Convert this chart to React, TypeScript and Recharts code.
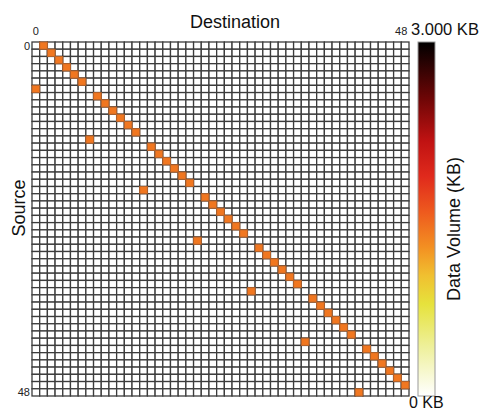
import { Scatter, ScatterChart, XAxis, YAxis } from 'recharts'

// Ranks 0..48 on both axes
const ranks = [
  0, 1, 2, 3, 4, 5, 6, 7, 8, 9, 10, 11, 12, 13, 14, 15, 16, 17, 18, 19, 20, 21, 22, 23, 24,
  25, 26, 27, 28, 29, 30, 31, 32, 33, 34, 35, 36, 37, 38, 39, 40, 41, 42, 43, 44, 45, 46, 47, 48,
]
const axisTicks = [0, 48]

// Point-to-point messages: source rank -> destination rank (ring inside each group of 7)
const sources = [
  0, 1, 2, 3, 4, 5, 6,
  7, 8, 9, 10, 11, 12, 13,
  14, 15, 16, 17, 18, 19, 20,
  21, 22, 23, 24, 25, 26, 27,
  28, 29, 30, 31, 32, 33, 34,
  35, 36, 37, 38, 39, 40, 41,
  42, 43, 44, 45, 46, 47, 48,
]
const destinations = [
  1, 2, 3, 4, 5, 6, 0,
  8, 9, 10, 11, 12, 13, 7,
  15, 16, 17, 18, 19, 20, 14,
  22, 23, 24, 25, 26, 27, 21,
  29, 30, 31, 32, 33, 34, 28,
  36, 37, 38, 39, 40, 41, 35,
  43, 44, 45, 46, 47, 48, 42,
]
const volumesKB = [
  1400, 1400, 1400, 1400, 1400, 1400, 1400,
  1400, 1400, 1400, 1400, 1400, 1400, 1400,
  1400, 1400, 1400, 1400, 1400, 1400, 1400,
  1400, 1400, 1400, 1400, 1400, 1400, 1400,
  1400, 1400, 1400, 1400, 1400, 1400, 1400,
  1400, 1400, 1400, 1400, 1400, 1400, 1400,
  1400, 1400, 1400, 1400, 1400, 1400, 1400,
]
const maxVolumeKB = 3000

const WIDTH = 482
const HEIGHT = 412
const MARGIN = { top: 30, right: 73, bottom: 16, left: 18 }
const X_AXIS_H = 12
const Y_AXIS_W = 14
const PLOT_W = WIDTH - MARGIN.left - MARGIN.right - Y_AXIS_W
const PLOT_H = HEIGHT - MARGIN.top - MARGIN.bottom - X_AXIS_H
const CELL_W = PLOT_W / ranks.length
const CELL_H = PLOT_H / ranks.length
const FONT = '"Liberation Sans", Arial, sans-serif'

// white -> yellow -> orange -> red -> black
const colorStops: [number, string][] = [
  [0, '#ffffff'],
  [0.14, '#eef09a'],
  [0.26, '#e6e23c'],
  [0.34, '#f0c030'],
  [0.42, '#f39022'],
  [0.52, '#ee5a1e'],
  [0.62, '#e02a1c'],
  [0.72, '#c01212'],
  [0.84, '#6e0606'],
  [1, '#000000'],
]

function hexToRgb(hex: string) {
  const n = parseInt(hex.slice(1), 16)
  return [(n >> 16) & 255, (n >> 8) & 255, n & 255]
}

function volumeColor(volume: number) {
  const t = Math.max(0, Math.min(1, volume / maxVolumeKB))
  for (let i = 1; i < colorStops.length; i++) {
    const [t1, c1] = colorStops[i]
    if (t <= t1) {
      const [t0, c0] = colorStops[i - 1]
      const f = (t - t0) / (t1 - t0)
      const a = hexToRgb(c0)
      const b = hexToRgb(c1)
      const mix = a.map((v, k) => Math.round(v + (b[k] - v) * f))
      return `rgb(${mix[0]},${mix[1]},${mix[2]})`
    }
  }
  return colorStops[colorStops.length - 1][1]
}

const gridCells = ranks.flatMap((row) => ranks.map((col) => ({ row, col, volume: 0 })))
const trafficCells = sources.map((row, i) => ({ row, col: destinations[i], volume: volumesKB[i] }))

function MatrixCell(props: any) {
  const { cx, cy, payload } = props
  if (cx == null || cy == null) return null
  const fill = volumeColor(payload.volume)
  const empty = payload.volume === 0
  return (
    <rect
      x={cx - CELL_W / 2}
      y={cy - CELL_H / 2}
      width={CELL_W}
      height={CELL_H}
      fill={fill}
      stroke={empty ? '#3c3c3c' : '#b5622a'}
      strokeWidth={empty ? 1.3 : 1}
    />
  )
}

// top tick labels sit slightly inside the last column
function TopTick(props: any) {
  const { x, y, payload } = props
  const shift = payload.value === 48 ? -4 : 0
  return (
    <text x={x + shift} y={y} textAnchor="middle" fontSize={11} fill="#222">
      {payload.value}
    </text>
  )
}

function ColorBar() {
  return (
    <svg
      width={WIDTH}
      height={HEIGHT}
      style={{ position: 'absolute', left: 0, top: 0, pointerEvents: 'none', fontFamily: FONT }}
    >
      <defs>
        <linearGradient id="volumeScale" x1="0" y1="1" x2="0" y2="0">
          {colorStops.map(([t, c]) => (
            <stop key={t} offset={t} stopColor={c} />
          ))}
        </linearGradient>
      </defs>
      <text x={235} y={28} textAnchor="middle" fontSize={18} fill="#111">
        Destination
      </text>
      <text x={25} y={208} textAnchor="middle" fontSize={18} fill="#111" transform="rotate(-90 25 208)">
        Source
      </text>
      <rect x={418} y={42} width={17} height={354} fill="url(#volumeScale)" stroke="#999" />
      <text x={411} y={35} fontSize={16.5} fill="#111">
        3.000 KB
      </text>
      <text x={409} y={408} fontSize={16} fill="#111">
        0 KB
      </text>
      <text x={460} y={229} textAnchor="middle" fontSize={18} fill="#111" transform="rotate(-90 460 229)">
        Data Volume (KB)
      </text>
    </svg>
  )
}

export default function App() {
  return (
    <div style={{ position: 'absolute', left: 0, top: 0, width: WIDTH, height: HEIGHT, background: '#fff', fontFamily: FONT }}>
      <ScatterChart width={WIDTH} height={HEIGHT} margin={MARGIN}>
        <XAxis
          type="number"
          dataKey="col"
          orientation="top"
          domain={[-0.5, 48.5]}
          ticks={axisTicks}
          interval={0}
          height={X_AXIS_H}
          tickLine={false}
          axisLine={false}
          tickSize={0}
          tickMargin={7}
          tick={<TopTick />}
        />
        <YAxis
          type="number"
          dataKey="row"
          domain={[-0.5, 48.5]}
          reversed
          ticks={axisTicks}
          interval={0}
          width={Y_AXIS_W}
          tickLine={false}
          axisLine={false}
          tickSize={0}
          tickMargin={2}
          tick={{ fontSize: 11, fill: '#222' }}
        />
        <Scatter data={gridCells} shape={MatrixCell} isAnimationActive={false} />
        <Scatter data={trafficCells} shape={MatrixCell} isAnimationActive={false} />
      </ScatterChart>
      <ColorBar />
    </div>
  )
}
